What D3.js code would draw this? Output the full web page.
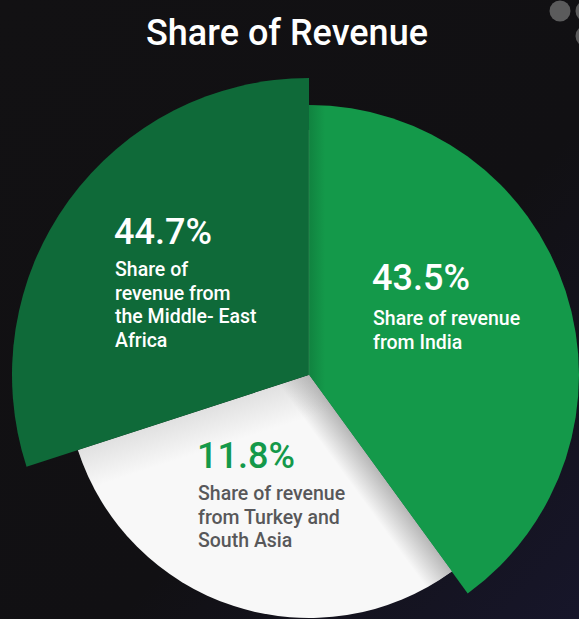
<!DOCTYPE html>
<html>
<head>
<meta charset="utf-8">
<script src="https://cdnjs.cloudflare.com/ajax/libs/d3/7.8.5/d3.min.js"></script>
<style>
  html, body { margin: 0; padding: 0; background: #111012; overflow: hidden; }
  svg { display: block; }
</style>
</head>
<body>
<script>
// data
var regions = ['India', 'Turkey and South Asia', 'Middle-East Africa'];
var shareLabels = ['43.5%', '11.8%', '44.7%'];
// angular share each slice takes in the drawing (not proportional to the labels)
var sweepShares = [40, 30, 30];
var captionLines = [
  ['Share of revenue', 'from India'],
  ['Share of revenue', 'from Turkey and', 'South Asia'],
  ['Share of', 'revenue from', 'the Middle- East', 'Africa']
];

// layout
var wW = 579, wH = 619;
var cx = 309, cy = 375;
var sliceRadius = [270, 243, 297];
var sliceColor = ['#14994a', '#f8f8f8', '#0f6a39'];
var pctColor = ['#ffffff', '#14994a', '#ffffff'];
var capColor = ['#ffffff', '#58585a', '#ffffff'];
var labelOffset = [[63, -85], [-112, 93], [-195, -131]];
var capGap = [35, 32, 32];
var fontFamily = "Roboto, 'Open Sans', sans-serif";

var svg = d3.select('body').append('svg')
  .attr('width', wW)
  .attr('height', wH);

var defs = svg.append('defs');

// background
var bg = defs.append('linearGradient')
  .attr('id', 'bg')
  .attr('x1', 0).attr('y1', 0).attr('x2', 1).attr('y2', 1);
bg.append('stop').attr('offset', '0%').attr('stop-color', '#121113');
bg.append('stop').attr('offset', '60%').attr('stop-color', '#111013');
bg.append('stop').attr('offset', '100%').attr('stop-color', '#17162a');

svg.append('rect')
  .attr('width', wW)
  .attr('height', wH)
  .attr('fill', 'url(#bg)');

// decorative dots, top right
[[560, 11], [586, 11], [586, 36]].forEach((p) => {
  svg.append('circle')
    .attr('cx', p[0]).attr('cy', p[1]).attr('r', 10.5)
    .attr('fill', '#5b5b5c');
});

// title
svg.append('text')
  .attr('x', 287)
  .attr('y', 45)
  .attr('text-anchor', 'middle')
  .attr('font-family', fontFamily)
  .attr('font-weight', 500)
  .attr('font-size', 36)
  .attr('fill', '#ffffff')
  .text('Share of Revenue');

var pie = d3.pie()
  .sort(null)
  .value(d => d)
  .startAngle(0)
  .endAngle(2 * Math.PI);

var arcs = pie(sweepShares);

var arc = d3.arc()
  .innerRadius(0)
  .outerRadius(d => sliceRadius[d.index]);

var g = svg.append('g')
  .attr('transform', 'translate(' + cx + ',' + cy + ')');

g.selectAll('path.slice')
  .data(arcs)
  .enter().append('path')
  .attr('class', 'slice')
  .attr('d', arc)
  .attr('fill', (d, i) => sliceColor[i]);

// soft shading along the straight edges, clipped to each slice
var addEdgeShade = (d, angle, dir, width, color, opacity, id) => {
  var ux = Math.cos(angle) * dir, uy = Math.sin(angle) * dir;
  var grad = defs.append('linearGradient')
    .attr('id', id)
    .attr('gradientUnits', 'userSpaceOnUse')
    .attr('x1', 0).attr('y1', 0)
    .attr('x2', ux * width).attr('y2', uy * width);
  grad.append('stop').attr('offset', '0%').attr('stop-color', color).attr('stop-opacity', opacity);
  grad.append('stop').attr('offset', '100%').attr('stop-color', color).attr('stop-opacity', 0);

  defs.append('clipPath')
    .attr('id', id + '-clip')
    .append('path')
    .attr('d', arc(d));

  g.append('path')
    .attr('d', arc(d))
    .attr('clip-path', 'url(#' + id + '-clip)')
    .attr('fill', 'url(#' + id + ')');
};

// white slice: shadow from the India edge and a softer one from the dark edge
addEdgeShade(arcs[1], arcs[1].startAngle, 1, 30, '#8c8c8c', 0.6, 'shadeA');
addEdgeShade(arcs[1], arcs[1].endAngle, -1, 40, '#b5b5b5', 0.35, 'shadeB');
// India slice: slight darkening along its left edge
addEdgeShade(arcs[0], arcs[0].startAngle, 1, 16, '#0a5a2c', 0.35, 'shadeC');

// thin light seam between the dark slice and India
g.append('line')
  .attr('x1', 0).attr('y1', 0)
  .attr('x2', 0).attr('y2', -sliceRadius[0] + 25)
  .attr('stroke', '#3f8f5f')
  .attr('stroke-width', 0.8)
  .attr('stroke-opacity', 0.6);

// labels
arcs.forEach((d, i) => {
  var lx = labelOffset[i][0], ly = labelOffset[i][1];
  var lg = g.append('g')
    .attr('transform', 'translate(' + lx + ',' + ly + ')');

  lg.append('text')
    .attr('x', 0)
    .attr('y', 0)
    .attr('font-family', fontFamily)
    .attr('font-weight', 500)
    .attr('font-size', 36)
    .attr('fill', pctColor[i])
    .text(shareLabels[i]);

  captionLines[i].forEach((line, k) => {
    lg.append('text')
      .attr('x', 1)
      .attr('y', capGap[i] + k * 23.5)
      .attr('font-family', fontFamily)
      .attr('font-weight', 500)
      .attr('font-size', 19.5)
      .attr('fill', capColor[i])
      .text(line);
  });
});
</script>
</body>
</html>
